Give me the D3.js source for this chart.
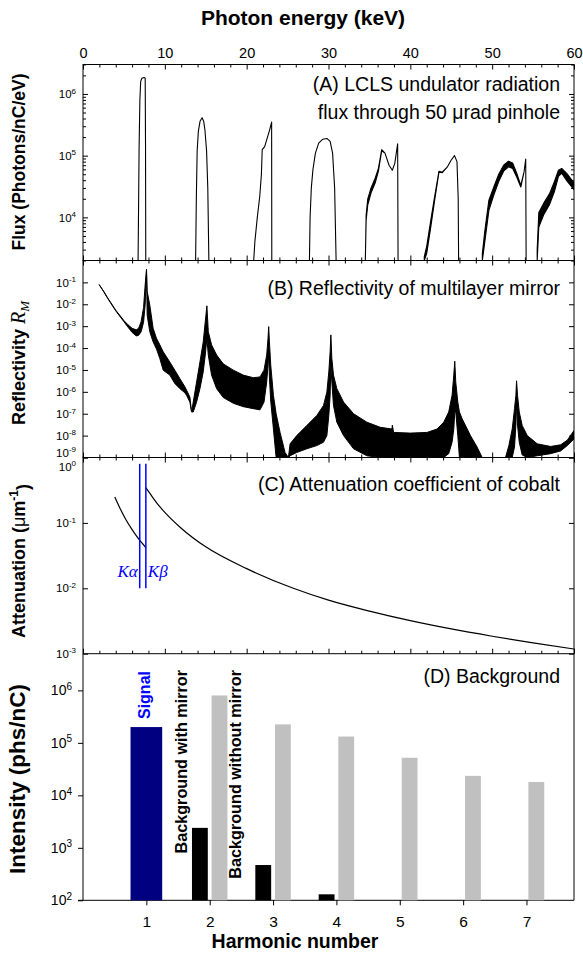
<!DOCTYPE html>
<html><head><meta charset="utf-8">
<script src="https://cdn.jsdelivr.net/npm/d3@7"></script>
<style>body{margin:0;background:#fff}text{font-family:"Liberation Sans",Arial,sans-serif}</style>
</head><body>
<svg id="c" width="583" height="957"></svg>
<script>
// ---------------- DATA ----------------
const energyTicks = [0,10,20,30,40,50,60];
const harmonicTicks = [1,2,3,4,5,6,7];
// Panel A: flux per harmonic, points [keV, low, high] (photons/nC/eV)
const fluxH1 = [[6.73,2e3,2e3],[6.78,1e4,1e4],[6.85,1.2e5,1.2e5],[6.95,8e5,8e5],[7.05,1.6e6,1.6e6],[7.2,1.8e6,1.8e6],[7.45,1.85e6,1.85e6],[7.6,1.8e6,1.8e6],[7.64,1.5e5,1.5e5],[7.67,2e3,2e3]];
const fluxH2 = [[13.76,2e3,2e3],[13.85,2e4,2e4],[13.95,1.2e5,1.2e5],[14.1,2.5e5,2.5e5],[14.3,3.6e5,3.6e5],[14.55,4.1e5,4.1e5],[14.75,3.6e5,3.6e5],[14.9,2.6e5,2.6e5],[15.1,1.2e5,1.2e5],[15.25,3e4,3e4],[15.38,2e3,2e3]];
const fluxH3 = [[20.86,2e3,2e3],[21.0,4e3,4e3],[21.3,1e4,1e4],[21.6,2.2e4,2.2e4],[21.8,5e4,5e4],[21.9,1.25e5,1.25e5],[22.2,1.4e5,1.4e5],[22.5,1.9e5,1.9e5],[22.8,2.6e5,2.6e5],[23.05,3.5e5,3.5e5],[23.07,2e3,2e3]];
const fluxH4 = [[27.67,2e3,2e3],[27.75,1e4,1e4],[27.9,3e4,3e4],[28.1,6e4,6e4],[28.4,1.1e5,1.1e5],[28.8,1.6e5,1.6e5],[29.3,1.85e5,1.85e5],[29.8,1.9e5,1.9e5],[30.2,1.7e5,1.7e5],[30.5,1.1e5,1.1e5],[30.75,3e4,3e4],[30.93,2e3,2e3]];
const fluxH5 = [[34.5,2e3,2e3],[34.6,9e3,1.1e4],[34.8,1.6e4,2e4],[35.2,2.5e4,3e4],[35.7,3.6e4,4.3e4],[36.1,5.6e4,6.2e4],[36.5,1.2e5,1.25e5],[36.9,1.1e5,1.1e5],[37.4,7e4,7e4],[37.8,5.8e4,5.8e4],[38.1,7.5e4,7.5e4],[38.45,1.55e5,1.55e5],[38.5,2e3,2e3]];
const fluxH6 = [[41.7,2e3,2.3e3],[42.0,2.6e3,3.4e3],[42.5,7e3,9e3],[43.0,2e4,2.3e4],[43.5,5.4e4,5.6e4],[43.9,5.3e4,5.4e4],[44.5,6.5e4,6.5e4],[45.0,8.5e4,8.5e4],[45.4,1e5,1e5],[45.7,8e4,8e4],[45.85,2e4,2e4],[45.9,2e3,2e3]];
const fluxH7 = [[48.8,2e3,2.6e3],[49.1,4e3,6e3],[49.6,1.3e4,1.9e4],[50.2,2.3e4,3.1e4],[50.8,3.8e4,5e4],[51.4,5.6e4,7e4],[52.0,6.6e4,8.1e4],[52.5,6.2e4,7.6e4],[53.0,4.5e4,5.2e4],[53.5,3.1e4,3.3e4],[53.9,5.5e4,5.5e4],[54.1,8.8e4,8.8e4],[54.15,2e3,2e3]];
const fluxH8 = [[55.5,2e3,3e3],[55.7,7e3,1.2e4],[56.3,1.1e4,1.7e4],[57.0,1.6e4,2.4e4],[57.6,2.6e4,3.8e4],[58.1,4.6e4,5.8e4],[58.5,5.2e4,6.2e4],[59.2,3.8e4,5e4],[60.0,2.8e4,3.6e4]];
// Panel B: multilayer reflectivity envelope, [keV, low, high]
const reflSeg1 = [[1.96,8e-2,8e-2],[2.5,3.9e-2,4.1e-2],[3,1.9e-2,2e-2],[4,5e-3,5.4e-3],[5,1.6e-3,1.8e-3],[5.5,9e-4,1.15e-3],[6,5.2e-4,8e-4],[6.5,3.6e-4,6.8e-4],[6.8,3.8e-4,8e-4],[7.1,5.5e-4,1.6e-3],[7.4,1.5e-3,7e-3],[7.6,1e-2,8e-2],[7.76,0.35,0.4],[7.84,3.2e-3,3.9e-2],[8.16,5.6e-4,9.3e-3],[8.57,1.9e-4,8e-4],[8.98,9e-5,2.8e-4],[9.39,3.3e-5,1.4e-4],[9.8,9.8e-6,6.8e-5],[10.61,5.8e-6,2.3e-5],[11.22,2.4e-6,9.8e-6],[11.84,1.4e-6,4e-6],[12.45,9e-7,1.7e-6],[12.65,6.9e-7,1.2e-6],[13.06,3.4e-7,5.8e-7],[13.27,1.2e-7,1.2e-7],[13.47,1.2e-7,3.4e-7],[13.88,3.4e-7,2.8e-6],[14.29,1.4e-6,2.3e-5],[14.69,8.1e-6,1.9e-4],[14.94,4.8e-5,1.6e-3],[15.14,2.8e-4,8.5e-3],[15.31,4.8e-5,5.6e-4],[15.71,5.8e-6,1.4e-4],[16.33,1.4e-6,4.8e-5],[17.14,5.5e-7,1.9e-5],[18.37,3e-7,9.8e-6],[19.59,2.1e-7,5.8e-6],[20.82,1.7e-7,4.4e-6],[21.63,1.5e-7,4.8e-6],[22.12,3.4e-7,9.8e-6],[22.45,2.8e-6,4.8e-5],[22.61,1.7e-5,2.8e-4],[22.69,4.8e-5,9.5e-4],[22.78,4.8e-6,2e-4],[22.94,3.8e-7,1.7e-5],[23.27,2e-8,6.9e-7],[23.6,1e-9,1e-7],[24.08,1e-9,1.4e-8],[24.69,1e-9,1.7e-9],[25.1,1e-9,1e-9]];
const reflSeg2 = [[25.1,1e-9,1e-9],[25.31,1.2e-9,4.2e-9],[26.12,1.7e-9,1e-8],[27.35,2.5e-9,2.9e-8],[28.57,3.5e-9,8.3e-8],[29.39,5e-9,2.4e-7],[29.8,1e-8,9.8e-7],[30.04,8.3e-8,8.1e-6],[30.2,6.9e-7,6.8e-5],[30.29,1.7e-5,4e-4],[30.41,2.8e-6,3.3e-5],[30.61,2.4e-7,5.8e-6],[31.02,4.1e-8,1.4e-6],[31.84,1e-8,3.4e-7],[33.06,2.5e-9,1e-7],[34.69,1.2e-9,4.1e-8],[36.33,1e-9,2.4e-8],[37.76,1e-9,2e-8],[37.8,1e-9,3e-8],[37.96,1e-9,1.4e-8],[40.0,1e-9,1.3e-8],[42.04,1e-9,1.4e-8],[43.27,1e-9,2e-8],[44.08,1e-9,4.1e-8],[44.69,1.5e-9,1.2e-7],[45.1,5e-9,6.9e-7],[45.31,2e-8,5.8e-6],[45.43,1.2e-7,2.5e-5],[45.55,1.2e-7,2.8e-6],[45.8,1e-8,3.4e-7],[46.0,1e-9,1.2e-7],[46.33,1e-9,5.9e-8],[47.35,1e-9,1e-8],[48.16,1e-9,3e-9],[48.78,1e-9,1e-9]];
const reflSeg3 = [[51.63,1e-9,1e-9],[52.04,1e-9,3.5e-9],[52.45,1e-9,2e-8],[52.73,3e-9,1.7e-7],[52.9,3e-8,6.9e-7],[52.98,3e-7,3.2e-6],[53.1,3e-8,6.9e-7],[53.31,5e-9,1.2e-7],[53.67,1.3e-9,2.9e-8],[54.29,1e-9,1e-8],[55.51,1.2e-9,4.2e-9],[57.14,1.5e-9,3.2e-9],[58.37,2e-9,3.8e-9],[59.18,3.5e-9,6.2e-9],[60.0,7e-9,1.7e-8]];
// Panel C: attenuation coefficient of cobalt (1/um)
const attenBelowEdge = [[3.88,0.249],[4.5,0.169],[5.2,0.115],[6.0,0.079],[6.8,0.057],[7.68,0.042]];
const attenAboveEdge = [[7.68,0.345],[8,0.304],[9,0.203],[10,0.145],[12,0.083],[15,0.043],[20,0.020],[25.7,0.010],[30,0.0066],[35,0.00448],[40,0.0032],[45,0.00239],[50,0.00185],[55,0.00146],[60,0.00118]];
const emissionLines = [{name:"α",e:6.93},{name:"β",e:7.68}];
const emissionRange = [0.01,0.8];
// Panel D: intensities per harmonic (phs/nC)
const signalValue = [{h:1,v:2.0e5}];
const bgWithMirror = [{h:2,v:2400},{h:3,v:470},{h:4,v:130}];
const bgWithoutMirror = [{h:2,v:8.0e5},{h:3,v:2.25e5},{h:4,v:1.32e5},{h:5,v:5.2e4},{h:6,v:2.35e4},{h:7,v:1.8e4}];

// ---------------- LAYOUT ----------------
const svg = d3.select("#c");
const L = 83, R = 574;
const yTop=64.5, yAB=260.5, yBC=457.5, yCD=653.7, yBot=900.3;
const x = d3.scaleLinear().domain([0,60]).range([L,R]);
const yA = d3.scaleLog().domain([2e3,3e6]).range([yAB,yTop]);
const yB = d3.scaleLog().domain([1e-9,1]).range([yBC,yAB]);
const yC = d3.scaleLog().domain([1e-3,1]).range([yCD,yBC]);
const xD = d3.scaleLinear().domain([0,7.75]).range([L,R]);
const yD = d3.scaleLog().domain([1e2,5e6]).range([yBot,yCD]);

function supLabel(sel, size, supSize){
  sel.selectAll(".tick text").each(function(d){
    const t=d3.select(this); const e=Math.round(Math.log10(d));
    t.text(null).attr("font-size",size);
    t.append("tspan").text("10");
    t.append("tspan").attr("font-size",supSize).attr("dy","-0.55em").text(e);
  });
}
function minorVals(dom){
  const out=[]; const lo=Math.floor(Math.log10(dom[0])), hi=Math.ceil(Math.log10(dom[1]));
  for(let k=lo;k<=hi;k++) for(let m=2;m<=9;m++){const v=m*Math.pow(10,k); if(v>=dom[0]*0.999&&v<=dom[1]*1.001) out.push(v);}
  return out;
}
function clean(g){g.select(".domain").remove(); g.selectAll("text").attr("fill","#000"); g.selectAll("line").attr("stroke","#000");}

const eMinor = d3.range(2,60,2).filter(v=>v%10!==0);
function xEdge(y, dir, labels){
  const mk = ()=> (dir==="top"?d3.axisTop(x):d3.axisBottom(x));
  const g=svg.append("g").attr("transform",`translate(0,${y})`)
    .call(mk().tickValues(energyTicks).tickSize(-5).tickSizeOuter(0).tickPadding(7).tickFormat(labels?d3.format("d"):""));
  clean(g);
  g.selectAll("text").attr("font-size",14.5);
  const g2=svg.append("g").attr("transform",`translate(0,${y})`)
    .call(mk().tickValues(eMinor).tickSize(-3).tickSizeOuter(0).tickFormat(""));
  clean(g2);
}
xEdge(yTop,"top",true);
xEdge(yAB,"bottom",false); xEdge(yAB,"top",false);
xEdge(yBC,"bottom",false); xEdge(yBC,"top",false);
xEdge(yCD,"bottom",false);

function yEdges(scale, majors, minors, labelSize, supSize, shift){
  const g=svg.append("g").attr("transform",`translate(${L},0)`)
    .call(d3.axisLeft(scale).tickValues(majors).tickSize(-5).tickSizeOuter(0).tickPadding(7));
  clean(g); supLabel(g,labelSize,supSize);
  if(shift) g.selectAll(".tick text").attr("transform",d=>`translate(0,${shift(d)})`);
  const gr=svg.append("g").attr("transform",`translate(${R},0)`)
    .call(d3.axisRight(scale).tickValues(majors).tickSize(-5).tickSizeOuter(0).tickFormat(""));
  clean(gr);
  if(minors){
    [[d3.axisLeft,L],[d3.axisRight,R]].forEach(([a,px])=>{
      const gm=svg.append("g").attr("transform",`translate(${px},0)`)
        .call(a(scale).tickValues(minors).tickSize(-3).tickSizeOuter(0).tickFormat(""));
      clean(gm);
    });
  }
}
yEdges(yA,[1e4,1e5,1e6],minorVals([2e3,3e6]),11.5,8);
yEdges(yB,d3.range(-9,0).map(k=>Math.pow(10,k)),null,11.5,8,d=>d<2e-9?-5:0);
yEdges(yC,[1e-3,1e-2,1e-1,1],null,11.5,8,d=>d>0.5?9:0);

// frames
[[yTop,yAB],[yAB,yBC],[yBC,yCD]].forEach(([a,b])=>{
  svg.append("rect").attr("x",L).attr("y",a).attr("width",R-L).attr("height",b-a).attr("fill","none").attr("stroke","#000").attr("stroke-width",1);
});

// ---------------- Panel A ----------------
svg.append("clipPath").attr("id","clipA").append("rect").attr("x",L).attr("y",yTop).attr("width",R-L).attr("height",yAB-yTop);
const gA = svg.append("g").attr("clip-path","url(#clipA)");
[fluxH1,fluxH2,fluxH3,fluxH4,fluxH5,fluxH6,fluxH7,fluxH8].forEach(h=>{
  gA.append("path").datum(h).attr("fill","#000").attr("stroke","#000").attr("stroke-width",1.1)
    .attr("d",d3.area().x(d=>x(d[0])).y0(d=>yA(d[1])).y1(d=>yA(d[2])))
    .attr("stroke-linejoin","round");
});

// ---------------- Panel B ----------------
svg.append("clipPath").attr("id","clipB").append("rect").attr("x",L).attr("y",yAB).attr("width",R-L).attr("height",yBC-yAB);
const gB = svg.append("g").attr("clip-path","url(#clipB)");
[reflSeg1,reflSeg2,reflSeg3].forEach(s=>{
  gB.append("path").datum(s).attr("fill","#000").attr("stroke","#000").attr("stroke-width",1)
    .attr("d",d3.area().x(d=>x(d[0])).y0(d=>yB(d[1])).y1(d=>yB(d[2])));
});

// ---------------- Panel C ----------------
const lineC = d3.line().x(d=>x(d[0])).y(d=>yC(d[1])).curve(d3.curveMonotoneX);
svg.append("path").datum(attenBelowEdge).attr("fill","none").attr("stroke","#000").attr("stroke-width",1.2).attr("d",lineC);
svg.append("path").datum(attenAboveEdge).attr("fill","none").attr("stroke","#000").attr("stroke-width",1.2).attr("d",lineC);
emissionLines.forEach((l,i)=>{
  svg.append("line").attr("x1",x(l.e)).attr("x2",x(l.e)).attr("y1",yC(emissionRange[0])).attr("y2",yC(emissionRange[1]))
    .attr("stroke","#0000ff").attr("stroke-width",1.5);
  const t=svg.append("text").attr("y",yC(0.0149)).attr("fill","#0000ff").attr("font-size",17)
    .style("font-family","'Liberation Serif','Times New Roman',serif").style("font-style","italic");
  if(i===0) t.attr("x",x(l.e)-2).attr("text-anchor","end"); else t.attr("x",x(l.e)+2);
  t.append("tspan").text("K"); t.append("tspan").text(l.name);
});

// ---------------- Panel D ----------------
const gDy=svg.append("g").attr("transform",`translate(${L},0)`)
  .call(d3.axisLeft(yD).tickValues([1e2,1e3,1e4,1e5,1e6]).tickSize(5).tickSizeOuter(0).tickPadding(6));
clean(gDy); supLabel(gDy,14,10);
const gDx=svg.append("g").attr("transform",`translate(0,${yBot})`)
  .call(d3.axisBottom(xD).tickValues(harmonicTicks).tickSize(5).tickSizeOuter(0).tickPadding(11).tickFormat(d3.format("d")));
clean(gDx); gDx.selectAll("text").attr("font-size",15.5);
svg.append("line").attr("x1",L-5).attr("x2",R).attr("y1",yBot).attr("y2",yBot).attr("stroke","#000");
svg.append("line").attr("x1",L).attr("x2",L).attr("y1",yCD).attr("y2",yBot).attr("stroke","#000");
svg.append("line").attr("x1",R).attr("x2",R).attr("y1",yCD).attr("y2",yBot).attr("stroke","#000");

svg.selectAll(".sig").data(signalValue).join("rect").attr("fill","#000080")
  .attr("x",d=>xD(d.h-0.25)).attr("width",xD(0.5)-xD(0)).attr("y",d=>yD(d.v)).attr("height",d=>yBot-yD(d.v));
svg.selectAll(".bgm").data(bgWithMirror).join("rect").attr("fill","#000")
  .attr("x",d=>xD(d.h-0.28)).attr("width",xD(0.25)-xD(0)).attr("y",d=>yD(d.v)).attr("height",d=>yBot-yD(d.v));
svg.selectAll(".bgn").data(bgWithoutMirror).join("rect").attr("fill","#c0c0c0")
  .attr("x",d=>xD(d.h+0.03)).attr("width",xD(0.25)-xD(0)).attr("y",d=>yD(d.v)).attr("height",d=>yBot-yD(d.v));

function vlabel(txt,cx,yEnd,color,size){
  svg.append("text").attr("transform",`translate(${cx},${yEnd}) rotate(-90)`).attr("font-size",size)
    .attr("text-anchor","end").attr("font-weight","bold").attr("fill",color).attr("dy","0.35em").text(txt);
}
vlabel("Signal",xD(0.97),671,"#0000ff",16);
vlabel("Background with mirror",xD(1.547),670,"#000",16.2);
vlabel("Background without mirror",xD(2.4),670,"#000",16.2);

// ---------------- TEXT ----------------
svg.append("text").attr("x",303).attr("y",25).attr("text-anchor","middle").attr("font-size",21).attr("font-weight","bold").text("Photon energy (keV)");
svg.append("text").attr("x",295).attr("y",948).attr("text-anchor","middle").attr("font-size",19.5).attr("font-weight","bold").text("Harmonic number");
function ylab(cy, parts, size){
  const t=svg.append("text").attr("transform",`translate(25,${cy}) rotate(-90)`).attr("text-anchor","middle").attr("font-size",size).attr("font-weight","bold");
  parts.forEach(p=>{const s=t.append("tspan").text(p.t); if(p.style) Object.entries(p.style).forEach(([k,v])=>s.attr(k,v));});
}
ylab(162,[{t:"Flux (Photons/nC/eV)"}],17.5);
ylab(363,[{t:"Reflectivity "},{t:"R",style:{"font-style":"italic","font-weight":"normal","font-family":"Liberation Serif, serif","font-size":20}},{t:"M",style:{"font-style":"italic","font-weight":"normal","font-family":"Liberation Serif, serif","font-size":13,"dy":"0.3em"}}],18);
ylab(561,[{t:"Attenuation ("},{t:"μ",style:{"font-weight":"normal"}},{t:"m"},{t:"-1",style:{"font-size":12,"dy":"-0.6em"}},{t:")",style:{"dy":"0.6em"}}],18);
ylab(779,[{t:"Intensity (phs/nC)"}],22.5);

function note(lines, y0, lh){
  lines.forEach((s,i)=>svg.append("text").attr("x",R-14).attr("y",y0+i*lh).attr("text-anchor","end").attr("font-size",19.5).text(s));
}
note(["(A) LCLS undulator radiation","flux through 50 μrad pinhole"],91,28);
note(["(B) Reflectivity of multilayer mirror"],295,0);
note(["(C) Attenuation coefficient of cobalt"],491,0);
note(["(D) Background"],683,0);
</script>
</body></html>
